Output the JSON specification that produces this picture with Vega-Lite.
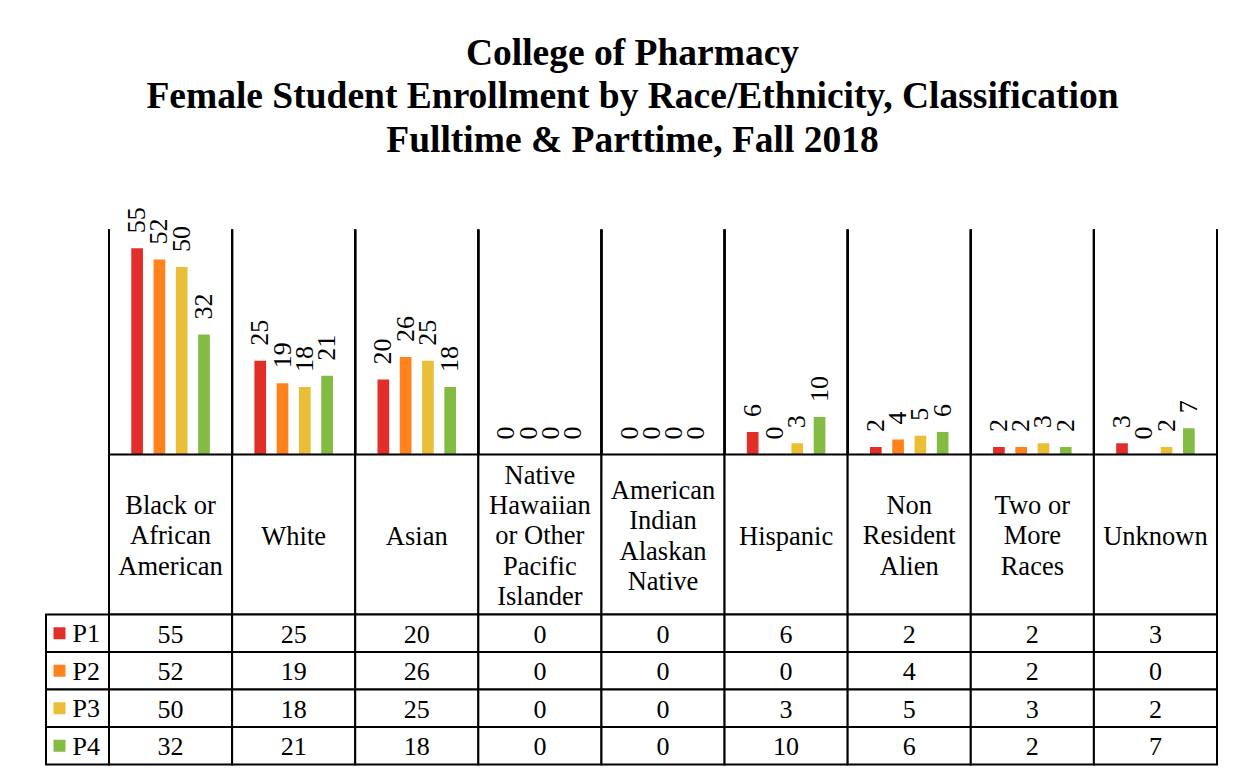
{
  "$schema": "https://vega.github.io/schema/vega-lite/v6.json",
  "background": "white",
  "padding": {"left": 45, "top": 34.5, "right": 0, "bottom": 0},
  "title": {
    "text": ["College of Pharmacy", "Female Student Enrollment by Race/Ethnicity, Classification", "Fulltime & Parttime, Fall 2018"],
    "font": "Liberation Serif",
    "fontSize": 37.5,
    "fontWeight": "bold",
    "lineHeight": 43.2,
    "color": "black",
    "anchor": "middle",
    "offset": 48.1,
    "dx": 1
  },
  "config": {
    "view": {"stroke": null},
    "font": "Liberation Serif",
    "text": {"font": "Liberation Serif", "color": "black"}
  },
  "datasets": {
    "vals": [
      {"cat": "Black or African American", "series": "P1", "value": 55},
      {"cat": "Black or African American", "series": "P2", "value": 52},
      {"cat": "Black or African American", "series": "P3", "value": 50},
      {"cat": "Black or African American", "series": "P4", "value": 32},
      {"cat": "White", "series": "P1", "value": 25},
      {"cat": "White", "series": "P2", "value": 19},
      {"cat": "White", "series": "P3", "value": 18},
      {"cat": "White", "series": "P4", "value": 21},
      {"cat": "Asian", "series": "P1", "value": 20},
      {"cat": "Asian", "series": "P2", "value": 26},
      {"cat": "Asian", "series": "P3", "value": 25},
      {"cat": "Asian", "series": "P4", "value": 18},
      {"cat": "Native Hawaiian or Other Pacific Islander", "series": "P1", "value": 0},
      {"cat": "Native Hawaiian or Other Pacific Islander", "series": "P2", "value": 0},
      {"cat": "Native Hawaiian or Other Pacific Islander", "series": "P3", "value": 0},
      {"cat": "Native Hawaiian or Other Pacific Islander", "series": "P4", "value": 0},
      {"cat": "American Indian Alaskan Native", "series": "P1", "value": 0},
      {"cat": "American Indian Alaskan Native", "series": "P2", "value": 0},
      {"cat": "American Indian Alaskan Native", "series": "P3", "value": 0},
      {"cat": "American Indian Alaskan Native", "series": "P4", "value": 0},
      {"cat": "Hispanic", "series": "P1", "value": 6},
      {"cat": "Hispanic", "series": "P2", "value": 0},
      {"cat": "Hispanic", "series": "P3", "value": 3},
      {"cat": "Hispanic", "series": "P4", "value": 10},
      {"cat": "Non Resident Alien", "series": "P1", "value": 2},
      {"cat": "Non Resident Alien", "series": "P2", "value": 4},
      {"cat": "Non Resident Alien", "series": "P3", "value": 5},
      {"cat": "Non Resident Alien", "series": "P4", "value": 6},
      {"cat": "Two or More Races", "series": "P1", "value": 2},
      {"cat": "Two or More Races", "series": "P2", "value": 2},
      {"cat": "Two or More Races", "series": "P3", "value": 3},
      {"cat": "Two or More Races", "series": "P4", "value": 2},
      {"cat": "Unknown", "series": "P1", "value": 3},
      {"cat": "Unknown", "series": "P2", "value": 0},
      {"cat": "Unknown", "series": "P3", "value": 2},
      {"cat": "Unknown", "series": "P4", "value": 7}
    ],
    "cats": [
      {"cat": "Black or African American", "label": "Black or\nAfrican\nAmerican"},
      {"cat": "White", "label": "White"},
      {"cat": "Asian", "label": "Asian"},
      {"cat": "Native Hawaiian or Other Pacific Islander", "label": "Native\nHawaiian\nor Other\nPacific\nIslander"},
      {"cat": "American Indian Alaskan Native", "label": "American\nIndian\nAlaskan\nNative"},
      {"cat": "Hispanic", "label": "Hispanic"},
      {"cat": "Non Resident Alien", "label": "Non\nResident\nAlien"},
      {"cat": "Two or More Races", "label": "Two or\nMore\nRaces"},
      {"cat": "Unknown", "label": "Unknown"}
    ],
    "series": [
      {"series": "P1"},
      {"series": "P2"},
      {"series": "P3"},
      {"series": "P4"}
    ]
  },
  "columns": 2,
  "spacing": 0,
  "bounds": "flush",
  "concat": [
    {
      "width": 63,
      "height": 225,
      "data": {"values": [{"a": 1}]},
      "mark": {"type": "point", "opacity": 0},
      "encoding": {}
    },
    {
      "width": 1108,
      "height": 225,
      "data": {"name": "vals"},
      "layer": [
        {
          "mark": {"type": "rule", "color": "black", "strokeWidth": 2},
          "encoding": {
            "x": {"field": "cat", "type": "nominal", "bandPosition": 0, "scale": {"type": "band", "domain": ["Black or African American", "White", "Asian", "Native Hawaiian or Other Pacific Islander", "American Indian Alaskan Native", "Hispanic", "Non Resident Alien", "Two or More Races", "Unknown"], "paddingInner": 0, "paddingOuter": 0}, "axis": null}
          }
        },
        {
          "transform": [{"filter": "datum.cat === 'Unknown'"}],
          "mark": {"type": "rule", "color": "black", "strokeWidth": 2},
          "encoding": {
            "x": {"field": "cat", "type": "nominal", "bandPosition": 1, "axis": null}
          }
        },
        {
          "mark": {"type": "bar"},
          "encoding": {
            "x": {"field": "cat", "type": "nominal", "axis": null},
            "xOffset": {"field": "series", "type": "nominal", "scale": {"domain": ["P1", "P2", "P3", "P4"], "paddingInner": 0.476, "paddingOuter": 1.167}},
            "y": {"field": "value", "type": "quantitative", "scale": {"domain": [0, 60]}, "axis": null},
            "color": {"field": "series", "type": "nominal", "scale": {"domain": ["P1", "P2", "P3", "P4"], "range": ["#E22E28", "#FF821C", "#EBBE37", "#84BB43"]}, "legend": null}
          }
        },
        {
          "mark": {"type": "text", "font": "Liberation Serif", "angle": 270, "align": "left", "baseline": "middle", "dx": 15, "fontSize": 26},
          "encoding": {
            "x": {"field": "cat", "type": "nominal", "axis": null},
            "xOffset": {"field": "series", "type": "nominal"},
            "y": {"field": "value", "type": "quantitative", "axis": null},
            "text": {"field": "value", "type": "quantitative"}
          }
        }
      ]
    },
    {
      "width": 63,
      "height": 160,
      "data": {"values": [{"a": 1}]},
      "mark": {"type": "point", "opacity": 0},
      "encoding": {}
    },
    {
      "width": 1108,
      "height": 160,
      "data": {"name": "cats"},
      "encoding": {
        "x": {"field": "cat", "type": "nominal", "scale": {"type": "band", "domain": ["Black or African American", "White", "Asian", "Native Hawaiian or Other Pacific Islander", "American Indian Alaskan Native", "Hispanic", "Non Resident Alien", "Two or More Races", "Unknown"], "paddingInner": 0, "paddingOuter": 0}, "axis": null},
        "text": {"field": "label"}
      },
      "layer": [
        {"mark": {"type": "rect", "fill": "white", "stroke": "black", "strokeWidth": 2}, "encoding": {"text": null}},
        {
          "transform": [{"filter": {"field": "cat", "oneOf": ["White", "Asian", "Hispanic", "Unknown"]}}],
          "mark": {"type": "text", "font": "Liberation Serif", "fontSize": 26.5, "lineBreak": "\n", "lineHeight": 30.3, "baseline": "middle", "dy": 2}
        },
        {
          "transform": [{"filter": {"field": "cat", "oneOf": ["Black or African American", "Non Resident Alien", "Two or More Races"]}}],
          "mark": {"type": "text", "font": "Liberation Serif", "fontSize": 26.5, "lineBreak": "\n", "lineHeight": 30.3, "baseline": "middle", "dy": -28.3}
        },
        {
          "transform": [{"filter": {"field": "cat", "oneOf": ["American Indian Alaskan Native"]}}],
          "mark": {"type": "text", "font": "Liberation Serif", "fontSize": 26.5, "lineBreak": "\n", "lineHeight": 30.3, "baseline": "middle", "dy": -43.5}
        },
        {
          "transform": [{"filter": {"field": "cat", "oneOf": ["Native Hawaiian or Other Pacific Islander"]}}],
          "mark": {"type": "text", "font": "Liberation Serif", "fontSize": 26.5, "lineBreak": "\n", "lineHeight": 30.3, "baseline": "middle", "dy": -58.6}
        }
      ]
    },
    {
      "width": 63,
      "height": 150,
      "data": {"name": "series"},
      "encoding": {
        "y": {"field": "series", "type": "nominal", "scale": {"type": "band", "domain": ["P1", "P2", "P3", "P4"], "paddingInner": 0, "paddingOuter": 0}, "axis": null}
      },
      "layer": [
        {"mark": {"type": "rect", "fill": "white", "stroke": "black", "strokeWidth": 2}, "encoding": {}},
        {
          "mark": {"type": "point", "shape": "square", "filled": true, "size": 144, "opacity": 1, "xOffset": -18},
          "encoding": {
            "color": {"field": "series", "type": "nominal", "legend": null}
          }
        },
        {
          "mark": {"type": "text", "font": "Liberation Serif", "align": "left", "baseline": "middle", "fontSize": 26, "xOffset": -5, "dy": 1},
          "encoding": {"text": {"field": "series"}}
        }
      ]
    },
    {
      "width": 1108,
      "height": 150,
      "data": {"name": "vals"},
      "encoding": {
        "x": {"field": "cat", "type": "nominal", "scale": {"type": "band", "domain": ["Black or African American", "White", "Asian", "Native Hawaiian or Other Pacific Islander", "American Indian Alaskan Native", "Hispanic", "Non Resident Alien", "Two or More Races", "Unknown"], "paddingInner": 0, "paddingOuter": 0}, "axis": null},
        "y": {"field": "series", "type": "nominal", "scale": {"type": "band", "domain": ["P1", "P2", "P3", "P4"], "paddingInner": 0, "paddingOuter": 0}, "axis": null}
      },
      "layer": [
        {"mark": {"type": "rect", "fill": "white", "stroke": "black", "strokeWidth": 2}, "encoding": {}},
        {
          "mark": {"type": "text", "font": "Liberation Serif", "fontSize": 26, "baseline": "middle", "dy": 1.5},
          "encoding": {"text": {"field": "value", "type": "quantitative"}}
        }
      ]
    }
  ]
}
